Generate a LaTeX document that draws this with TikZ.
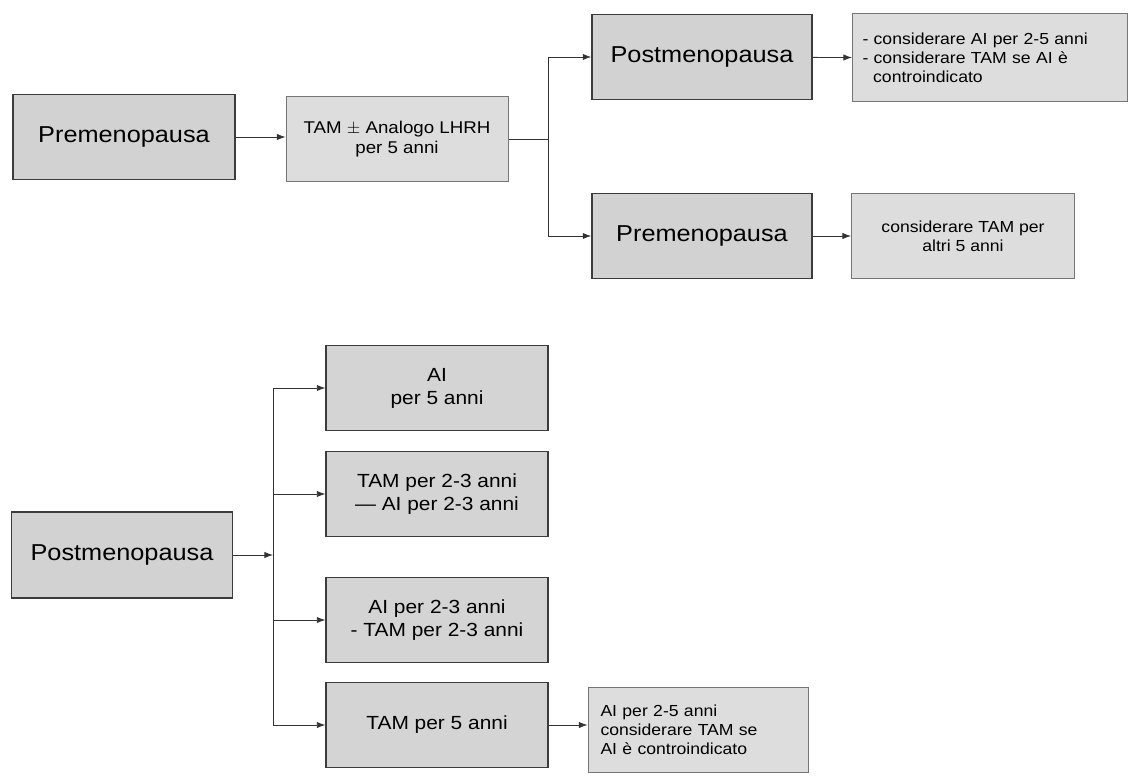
\documentclass[tikz,border=0pt]{standalone}
\usepackage{fontspec}
\setmainfont{Liberation Sans}[FakeStretch=1.1]
\usepackage{tikz}
\usetikzlibrary{arrows.meta,positioning,calc}
\definecolor{BoxFill}{RGB}{210,210,210}
\definecolor{BoxLine}{RGB}{60,60,60}

\begin{document}
\begin{tikzpicture}[x=1pt,y=-1pt,
  big/.style={draw=BoxLine,line width=1.4pt,fill=BoxFill,minimum width=222pt,minimum height=85pt,font=\fontsize{23}{27}\selectfont},
  small/.style={draw=BoxLine!70,line width=1pt,fill=BoxFill!75,minimum width=222pt,minimum height=85pt,align=center,font=\fontsize{16}{19}\selectfont},
  mid/.style={draw=BoxLine,line width=1.2pt,fill=BoxFill!95,minimum width=222pt,minimum height=85pt,align=center,font=\fontsize{19}{23}\selectfont},
  arr/.style={-{Latex[length=3mm,width=2.2mm]},line width=0.8pt,black!80},
  ln/.style={line width=0.8pt,black!80}]
\useasboundingbox (0,0) rectangle (1128,776);
% upper part
\node[big] (preA) at (124,137) {Premenopausa};
\node[small,font=\fontsize{17}{20}\selectfont] (tam) at (397,139) {TAM $\pm$ Analogo LHRH\\per 5 anni};
\node[big,minimum width=220pt] (postB) at (702,57) {Postmenopausa};
\node[big,minimum width=220pt] (preB) at (702,236) {Premenopausa};
\node[small,minimum width=275pt,minimum height=88pt,align=left,text width=255pt] (ai25) at (990,58) {- considerare AI per 2-5 anni\\- considerare TAM se AI è\\\ \ controindicato};
\node[small,minimum width=223pt] (tam5b) at (963,236) {considerare TAM per\\altri 5 anni};
\coordinate (splitA) at (548,139);
\draw[arr] (preA) -- (preA -| tam.west);
\draw[ln] (tam) -- (splitA);
\draw[ln] (splitA |- postB) -- (splitA |- preB);
\draw[arr] (splitA |- postB) -- (postB);
\draw[arr] (splitA |- preB) -- (preB);
\draw[arr] (postB) -- (ai25);
\draw[arr] (preB) -- (tam5b);
% lower part
\node[big,minimum width=221pt,minimum height=86pt] (postA) at (122,555) {Postmenopausa};
\node[mid] (ai5) at (437,388) {AI\\per 5 anni};
\node[mid] (tamai) at (437,494) {TAM per 2-3 anni\\— AI per 2-3 anni};
\node[mid] (aitam) at (437,620) {AI per 2-3 anni\\- TAM per 2-3 anni};
\node[mid] (tam5) at (437,725) {TAM per 5 anni};
\node[small,minimum width=220pt,align=left,text width=195pt] (aic) at (698,730) {AI per 2-5 anni\\considerare TAM se\\AI è controindicato};
\coordinate (splitB) at (273,555);
\draw[arr] (postA) -- (splitB);
\draw[ln] (splitB |- ai5) -- (splitB |- tam5);
\foreach \n in {ai5,tamai,aitam,tam5}{\draw[arr] (splitB |- \n) -- (\n);}
\draw[arr] (tam5) -- (tam5 -| aic.west);
\end{tikzpicture}
\end{document}
